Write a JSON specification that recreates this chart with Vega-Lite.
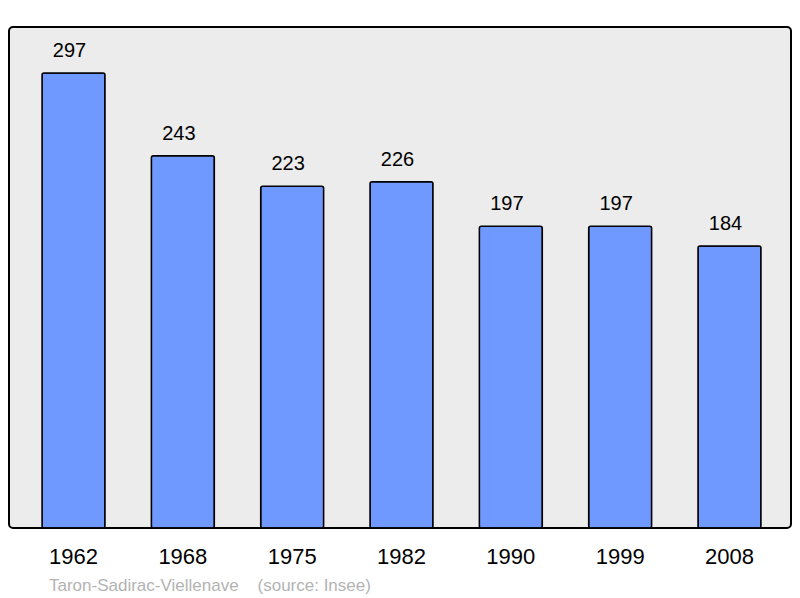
{
  "$schema": "https://vega.github.io/schema/vega-lite/v6.json",
  "width": 782,
  "height": 501,
  "autosize": "none",
  "padding": {"left": 9, "top": 27, "right": 9, "bottom": 70},
  "background": "white",
  "config": {
    "view": {"fill": "#ececec", "stroke": "black", "strokeWidth": 2, "cornerRadius": 4},
    "font": "Liberation Sans"
  },
  "title": {
    "text": "Taron-Sadirac-Viellenave\u00a0\u00a0\u00a0\u00a0(source: Insee)",
    "orient": "bottom",
    "anchor": "start",
    "dx": 40,
    "offset": 11,
    "fontSize": 17,
    "fontWeight": "normal",
    "color": "#b3b3b3",
    "font": "Liberation Sans"
  },
  "data": {
    "values": [
      {"year": "1962", "pop": 297},
      {"year": "1968", "pop": 243},
      {"year": "1975", "pop": 223},
      {"year": "1982", "pop": 226},
      {"year": "1990", "pop": 197},
      {"year": "1999", "pop": 197},
      {"year": "2008", "pop": 184}
    ]
  },
  "encoding": {
    "x": {
      "field": "year",
      "type": "nominal",
      "sort": null,
      "scale": {"paddingInner": 0.424, "paddingOuter": 0.25, "range": [5.7, 779.3]},
      "axis": {
        "title": null,
        "domain": false,
        "ticks": false,
        "labelAngle": 0,
        "labelFontSize": 22,
        "labelColor": "black",
        "labelPadding": 18,
        "labelFont": "Liberation Sans"
      }
    },
    "y": {
      "field": "pop",
      "type": "quantitative",
      "scale": {"domain": [0, 327], "nice": false},
      "axis": null
    }
  },
  "layer": [
    {
      "mark": {"type": "bar", "color": "#7099ff", "stroke": "black", "strokeWidth": 1.5, "cornerRadius": 2}
    },
    {
      "mark": {"type": "text", "dy": -22, "dx": -4, "fontSize": 20, "color": "black", "font": "Liberation Sans"},
      "encoding": {"text": {"field": "pop", "type": "quantitative"}}
    }
  ]
}
